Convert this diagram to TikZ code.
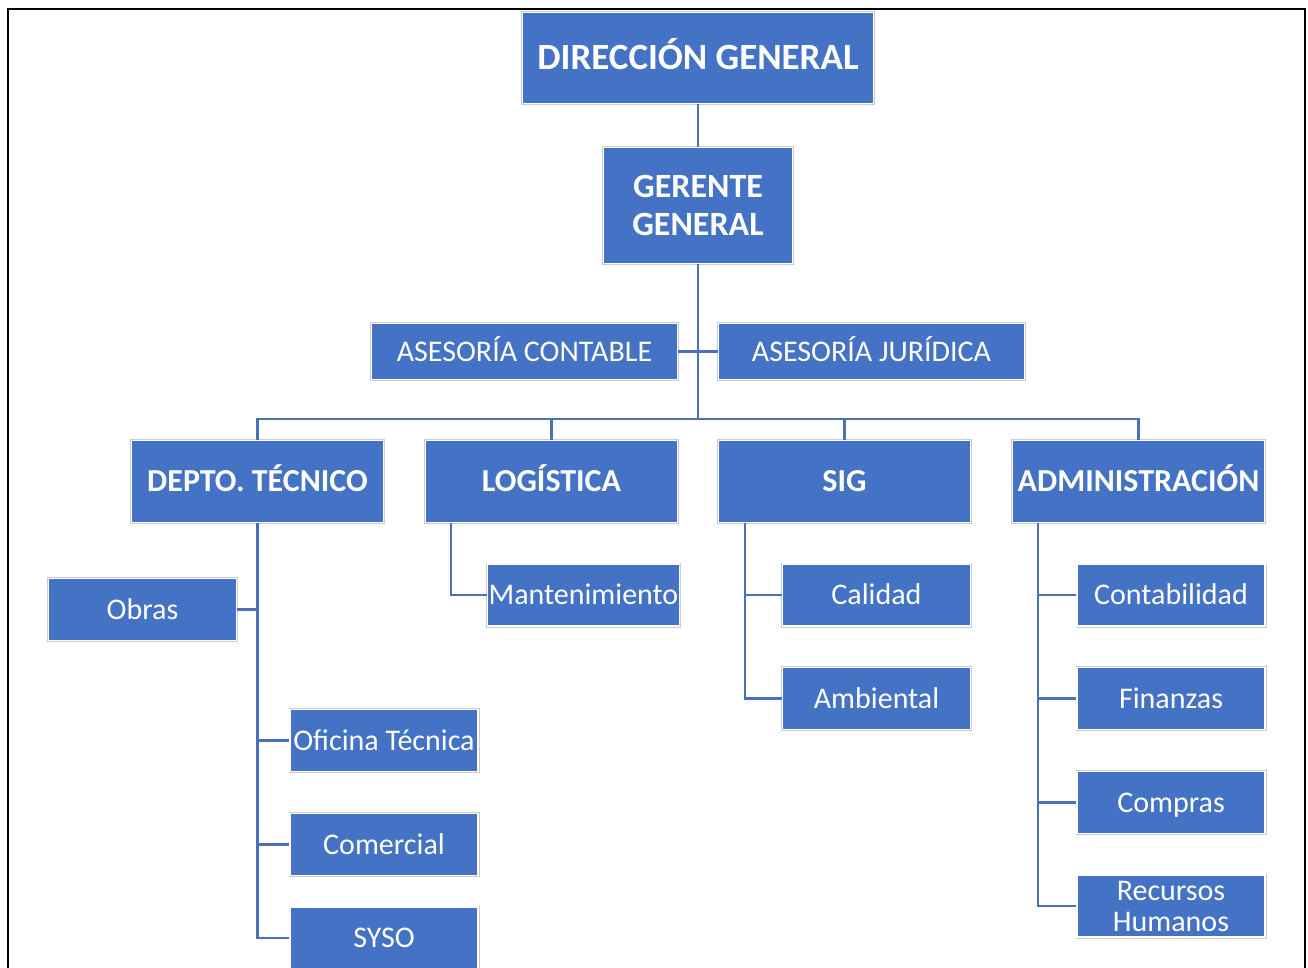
\documentclass[tikz,border=0pt]{standalone}
\usepackage{fontspec}
\setmainfont{Carlito}
\usetikzlibrary{positioning}
\definecolor{cajaazul}{HTML}{4472C4}
\definecolor{lineaazul}{HTML}{4A70B8}

\begin{document}
\begin{tikzpicture}[x=1pt,y=-1pt,
  caja/.style={rectangle,fill=cajaazul,draw=white,line width=1.5pt,
    preaction={draw=black!20,line width=3pt},text=white,align=center,inner sep=1pt},
  linea/.style={text height=#1,text depth=0pt},
  jefe/.style={caja,font=\fontsize{32}{38}\selectfont\bfseries},
  area/.style={caja,font=\fontsize{30}{31}\selectfont},
  sub/.style={area,minimum width=188,minimum height=62},
  subl/.style={sub,linea=19.3pt},
  depto/.style={jefe,linea=20.6pt,minimum width=252,minimum height=82},
  enlace/.style={draw=lineaazul,line width=2.5pt}]
  \useasboundingbox (0,0) rectangle (1308,968);
  \clip (0,0) rectangle (1308,968);
  \draw[line width=2.5pt] (8,9) rectangle (1305,1000);
  % direccion
  \node[jefe,linea=23.8pt,font=\fontsize{37}{40}\selectfont\bfseries,minimum width=351,minimum height=91] (dg) at (698,58) {DIRECCIÓN GENERAL};
  \node[jefe,font=\fontsize{34}{38}\selectfont\bfseries,minimum width=189,minimum height=116] (gg) at (698,205.5) {GERENTE\\GENERAL};
  \node[area,linea=19.3pt,minimum width=306,minimum height=56] (ac) at (524.5,351.5) {ASESORÍA CONTABLE};
  \node[area,linea=19.3pt,minimum width=306,minimum height=56] (aj) at (871.5,351.5) {ASESORÍA JURÍDICA};
  \coordinate (bus) at (698,419);
  % departamentos
  \node[depto] (dt) at (257.5,481.5) {DEPTO. TÉCNICO};
  \node[depto] (log) at (551.5,481.5) {LOGÍSTICA};
  \node[depto] (sig) at (844.5,481.5) {SIG};
  \node[depto] (adm) at (1138.5,481.5) {ADMINISTRACIÓN};
  % secciones
  \node[subl] (obras) at (142.5,609.5) {Obras};
  \node[subl] (ofi) at (384,740.5) {Oficina Técnica};
  \node[subl] (com) at (384,844.5) {Comercial};
  \node[subl] (syso) at (384,938) {SYSO};
  \node[subl] (mant) at (583.5,595) {Mantenimiento};
  \node[subl] (cal) at (876.5,595) {Calidad};
  \node[subl] (amb) at (876.5,698.5) {Ambiental};
  \node[subl] (cont) at (1171,595) {Contabilidad};
  \node[subl] (fin) at (1171,698.5) {Finanzas};
  \node[subl] (comp) at (1171,802.5) {Compras};
  \node[sub] (rh) at (1171,906) {Recursos\\Humanos};
  % enlaces
  \path[enlace] (dg) -- (gg);
  \path[enlace] (gg) -- (bus);
  \path[enlace] (ac.east) -- (aj.west);
  \path[enlace] (dt.north) |- (bus) -| (adm.north);
  \path[enlace] (log.north) -- (log.north |- bus);
  \path[enlace] (sig.north) -- (sig.north |- bus);
  \path[enlace] (dt.south) |- (syso.west);
  \path[enlace] (obras.east) -- (obras.east -| dt.south);
  \path[enlace] (ofi.west -| dt.south) -- (ofi.west);
  \path[enlace] (com.west -| dt.south) -- (com.west);
  \path[enlace] ([xshift=26pt]log.south west) |- (mant.west);
  \path[enlace] ([xshift=27pt]sig.south west) |- (amb.west);
  \path[enlace] (cal.west -| amb.west) ++(-37,0) -- (cal.west);
  \path[enlace] ([xshift=26pt]adm.south west) |- (rh.west);
  \path[enlace] (cont.west) -- ++(-38,0);
  \path[enlace] (fin.west) -- ++(-38,0);
  \path[enlace] (comp.west) -- ++(-38,0);
\end{tikzpicture}
\end{document}
